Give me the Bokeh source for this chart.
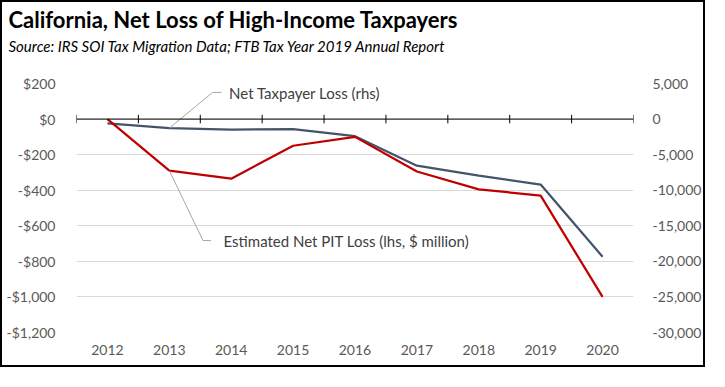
from bokeh.plotting import figure
from bokeh.models import Range1d, LinearAxis, Label, Span, Title
from bokeh.embed import file_html
from bokeh.resources import INLINE

years = ["2012", "2013", "2014", "2015", "2016", "2017", "2018", "2019", "2020"]
pit_loss = [0, -290, -335, -150, -100, -295, -395, -430, -1000]          # lhs, $ million
taxpayer_loss = [-600, -1280, -1500, -1400, -2400, -6550, -7950, -9200, -19350]  # rhs

left_ticks = [200, 0, -200, -400, -600, -800, -1000, -1200]
left_tick_labels = ["$200", "$0", "-$200", "-$400", "-$600", "-$800", "-$1,000", "-$1,200"]
right_ticks = [5000, 0, -5000, -10000, -15000, -20000, -25000, -30000]
right_tick_labels = ["5,000", "0", "-5,000", "-10,000", "-15,000", "-20,000", "-25,000", "-30,000"]

title_text = "California, Net Loss of High-Income Taxpayers"
subtitle_text = "Source:  IRS SOI Tax Migration Data; FTB Tax Year 2019 Annual Report"
rhs_label = "Net Taxpayer Loss (rhs)"
lhs_label = "Estimated Net PIT Loss (lhs, $ million)"

FONT = "Lato"
TICK_COLOR = "#595959"
RED = "#C00000"
BLUE = "#44546A"
GRID = "#D9D9D9"
LEADER = "#A6A6A6"

W, H = 705, 367
p = figure(width=W, height=H, output_backend="svg", toolbar_location=None,
           x_range=Range1d(-0.5, len(years) - 0.5), y_range=Range1d(-1200, 200),
           min_border_left=74, min_border_right=74, min_border_top=81, min_border_bottom=37)
p.styles = {"border": "2px solid #000000"}
p.outline_line_color = None
p.background_fill_color = "white"
p.border_fill_color = "white"

p.extra_y_ranges = {"rhs": Range1d(-30000, 5000)}

# x axis (labels only, low position)
xs = list(range(len(years)))
p.xaxis.ticker = xs
p.xaxis.major_label_overrides = {i: y for i, y in enumerate(years)}
p.xaxis.axis_line_color = None
p.xaxis.major_tick_line_color = None
p.xaxis.minor_tick_line_color = None
p.xaxis.major_label_standoff = 6
p.xaxis.major_label_text_font = FONT
p.xaxis.major_label_text_font_size = "14px"
p.xaxis.major_label_text_color = TICK_COLOR
p.xgrid.grid_line_color = None

# left axis
p.yaxis.ticker = left_ticks
p.yaxis.major_label_overrides = dict(zip(left_ticks, left_tick_labels))
p.yaxis.axis_line_color = None
p.yaxis.major_tick_line_color = None
p.yaxis.minor_tick_line_color = None
p.yaxis.major_label_standoff = 15
p.yaxis.major_label_text_font = FONT
p.yaxis.major_label_text_font_size = "14px"
p.yaxis.major_label_text_color = TICK_COLOR
p.ygrid.ticker = left_ticks
p.ygrid.grid_line_color = GRID
p.ygrid.grid_line_width = 1

# right axis
ra = LinearAxis(y_range_name="rhs", ticker=right_ticks)
ra.major_label_overrides = dict(zip(right_ticks, right_tick_labels))
ra.axis_line_color = None
ra.major_tick_line_color = None
ra.minor_tick_line_color = None
ra.major_label_standoff = 13
ra.major_label_text_font = FONT
ra.major_label_text_font_size = "14px"
ra.major_label_text_color = TICK_COLOR
p.add_layout(ra, "right")

# zero category axis line with crossing tick marks
p.add_layout(Span(location=0, dimension="width", line_color="#000000", line_width=1))
bounds = [i - 0.5 for i in range(len(years) + 1)]
p.segment(x0=bounds, x1=bounds, y0=[-24] * len(bounds), y1=[24] * len(bounds),
          line_color="#000000", line_width=1)

# series
p.line(xs, taxpayer_loss, y_range_name="rhs", line_color=BLUE, line_width=2.25)
p.line(xs, pit_loss, line_color=RED, line_width=2.25)

# leader lines (data coordinates, lhs scale)
ratio = 25.0  # rhs / lhs
p.line([1, 1.70, 1.845], [taxpayer_loss[1] / ratio, 150, 150], line_color=LEADER, line_width=1)
p.line([1, 1.544, 1.675], [pit_loss[1], -683, -683], line_color=LEADER, line_width=1)

p.add_layout(Label(x=1.965, y=148, text=rhs_label, text_font=FONT, text_font_size="15px",
                   text_color="#404040", text_baseline="middle"))
p.add_layout(Label(x=1.876, y=-686, text=lhs_label, text_font=FONT, text_font_size="15px",
                   text_color="#404040", text_baseline="middle"))

# title & subtitle
p.add_layout(Title(text=subtitle_text, text_font=FONT, text_font_style="italic",
                   text_font_size="15px", text_color="#000000", align="left",
                   vertical_align="bottom", offset=-68, standoff=58), "above")
p.add_layout(Title(text=title_text, text_font=FONT, text_font_style="bold",
                   text_font_size="22px", text_color="#000000", align="left",
                   vertical_align="bottom", offset=-68, standoff=-54), "above")

open("out.html", "w").write(file_html(p, INLINE))
